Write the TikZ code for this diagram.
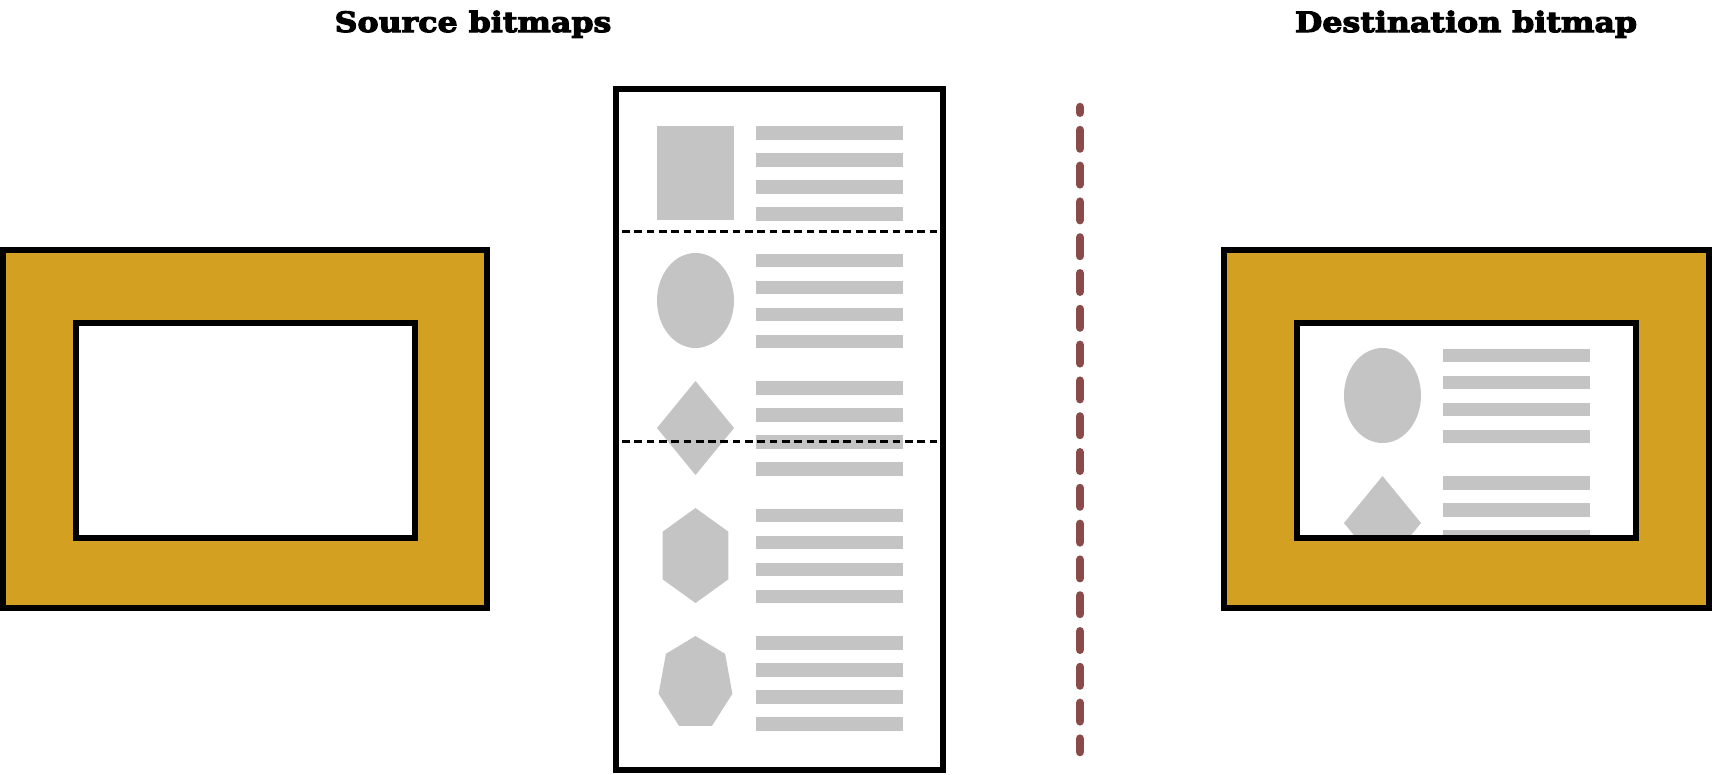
\documentclass[tikz,border=0pt]{standalone}
\usepackage{fontspec}
\newfontfamily\slabfont{DejaVu Serif}[BoldFeatures={FakeBold=4, FakeStretch=1.13}]

\definecolor{frameGold}{RGB}{212,160,34}
\definecolor{fillGray}{RGB}{196,196,196}
\definecolor{seamRed}{RGB}{139,74,74}

\tikzset{
  bitmap/.style={draw=black, line width=6pt, fill=frameGold},
  viewport/.style={draw=black, line width=6pt, fill=white},
  glyph/.style={fill=fillGray},
  textline/.style={fill=fillGray},
  cutline/.style={draw=black, line width=3pt, dash pattern=on 7.7pt off 4.6pt},
  seam/.style={draw=seamRed, line width=8.5pt, line cap=round,
    dash pattern=on 18.5pt off 17.3pt, dash phase=12.75pt},
  heading/.style={font=\slabfont\bfseries\fontsize{28}{32}\selectfont, anchor=base},
}

% four grey text lines beside a shape, #1 = top of the first one
\newcommand{\textlines}[1]{%
  \foreach \k in {0,...,3}
    \fill[textline] (756,#1+27*\k) rectangle (903,#1+27*\k+13.5);}

% the five records of the source bitmap
\newcommand{\recordstack}{%
  \fill[glyph] (657,126) rectangle (734,220);
  \fill[glyph] (695.5,300.5) ellipse [x radius=38.5, y radius=47.5];
  \fill[glyph] (695.5,381) -- (734,428) -- (695.5,475) -- (657,428) -- cycle;
  \fill[glyph, shift={(695.5,555.5)}, xscale=0.8]
    (-90:47.5) \foreach \a in {1,...,5} { -- (-90+60*\a:47.5) } -- cycle;
  \fill[glyph, shift={(695.5,683.3)}, xscale=0.8]
    (-90:47.3) \foreach \a in {1,...,6} { -- (-90+360/7*\a:47.3) } -- cycle;
  \foreach \t in {126,253.5,381,508.5,636} { \textlines{\t} }
}

\begin{document}
\begin{tikzpicture}[x=1pt, y=-1pt]
  \useasboundingbox (0,0) rectangle (1712,774);

  \node[heading] (srcTitle) at (473,32) {Source bitmaps};
  \node[heading] (dstTitle) at (1466,32) {Destination bitmap};

  % source: empty bitmap
  \draw[bitmap] (3,250) rectangle (487,608);
  \draw[viewport] (76,323) rectangle (415,538);

  % source: tall strip of records
  \fill[white] (616,89) rectangle (943,770);
  \recordstack
  \draw[cutline] (622,231) -- (941,231);
  \draw[cutline] (622,441) -- (941,441);
  \draw[line width=6pt] (616,89) rectangle (943,770);

  % divider
  \draw[seam] (1080,107) -- (1080,752);

  % destination bitmap
  \draw[bitmap] (1224,250) rectangle (1709,608);
  \fill[white] (1297,323) rectangle (1636,538);
  \begin{scope}
    \clip (1297,323) rectangle (1636,538);
    \begin{scope}[shift={(687,95)}]
      \recordstack
    \end{scope}
  \end{scope}
  \draw[line width=6pt] (1297,323) rectangle (1636,538);
\end{tikzpicture}
\end{document}
